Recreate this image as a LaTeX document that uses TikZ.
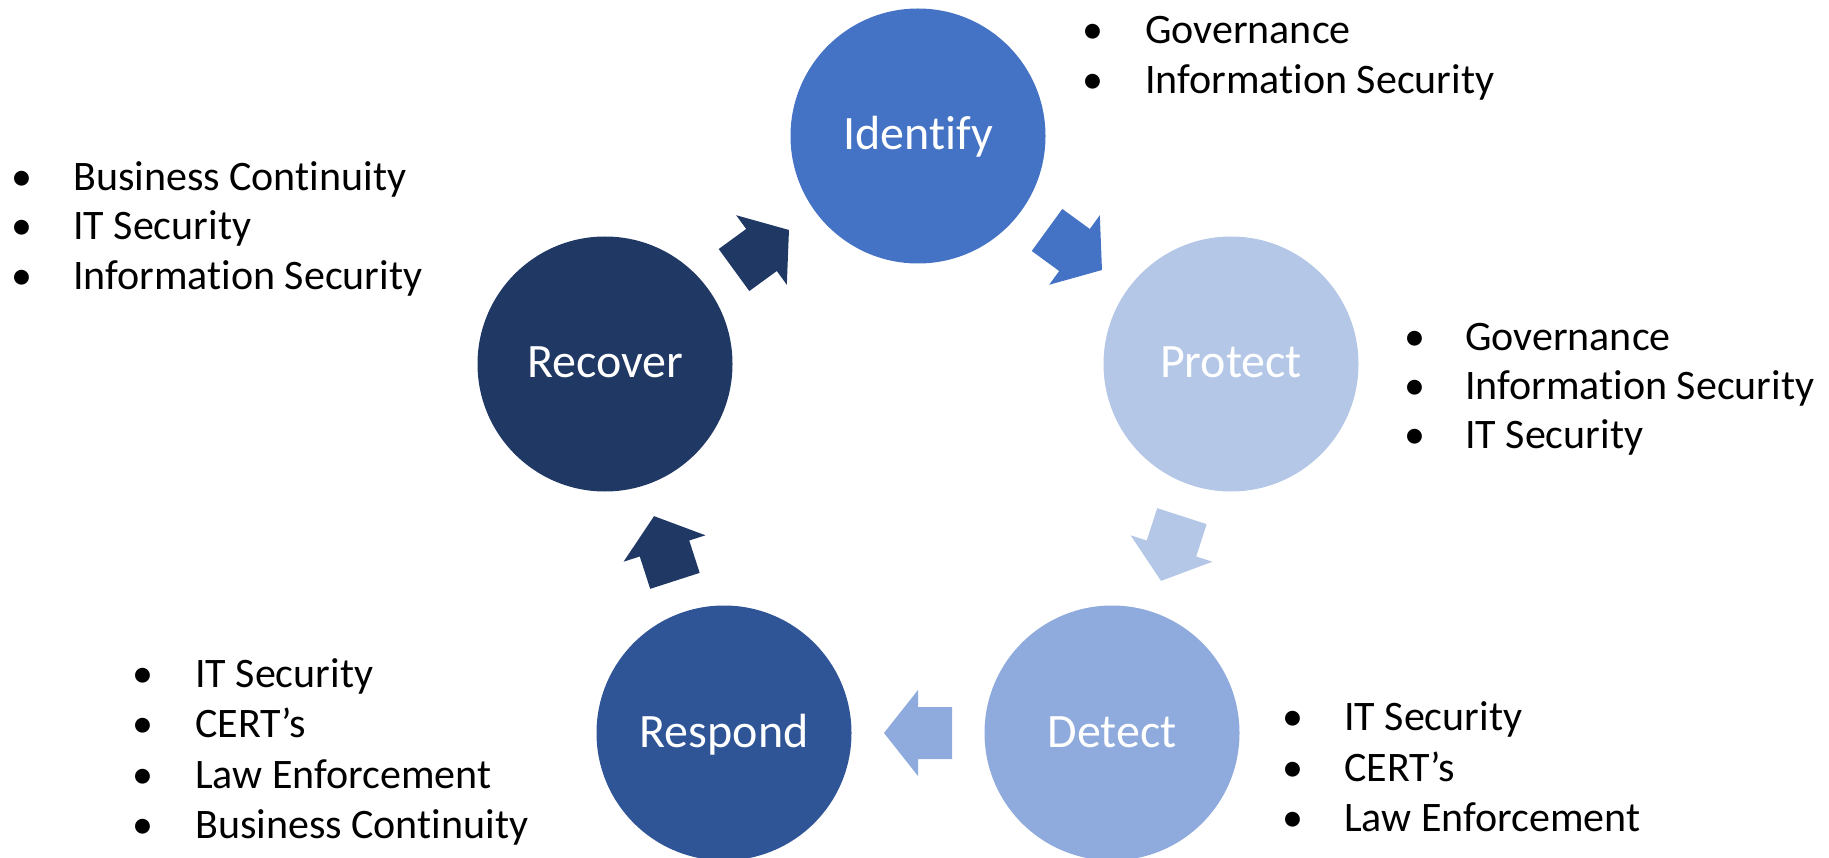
\documentclass[tikz,border=0pt]{standalone}
\usepackage{fontspec}
\setmainfont{Carlito}[Ligatures={NoCommon,NoContextual}]
\usetikzlibrary{calc}

\definecolor{cIdf}{HTML}{4472C4}
\definecolor{cPrt}{HTML}{B4C7E7}
\definecolor{cDet}{HTML}{8FAADC}
\definecolor{cRsp}{HTML}{2F5597}
\definecolor{cRec}{HTML}{203864}

\tikzset{
  stage/.style={circle, minimum size=255pt, inner sep=0pt, text=white,
    font=\fontsize{48}{58}\selectfont, text height=28pt, text depth=0pt},
  bul/.style={anchor=base, inner sep=0pt, font=\fontsize{42}{50}\selectfont},
  itm/.style={anchor=base west, inner sep=0pt, font=\fontsize{42}{50}\selectfont},
  cyclearrow/.pic={
    \fill (-34,-26) -- (0,-26) -- (0,-43) -- (34,0) -- (0,43) -- (0,26)
      -- (-34,26) -- cycle;
  },
  flow/.style={pos=0.5, sloped, allow upside down},
}

% bullet list: #1 name prefix, #2 bullet x, #3 text x, #4 first baseline, #5 step, #6 items
\newcommand\itemlist[6]{%
  \foreach \t [count=\i from 0] in {#6} {
    \node[bul] (#1b\i) at (#2, {#4+#5*\i}) {•};
    \node[itm] (#1t\i) at (#3, {#4+#5*\i}) {\t};
  }%
}

\begin{document}
\begin{tikzpicture}[x=1pt, y=-1pt]
  \useasboundingbox (0,0) rectangle (1829,858);

  % the five stages
  \node[stage, fill=cIdf] (idf) at (918,136)  {Identify};
  \node[stage, fill=cPrt] (prt) at (1231,364) {Protect};
  \node[stage, fill=cDet] (det) at (1112,733) {Detect};
  \node[stage, fill=cRsp] (rsp) at (724,733)  {Respond};
  \node[stage, fill=cRec] (rec) at (605,364)  {Recover};

  % block arrows between consecutive stages
  \path (idf) -- (prt) pic[flow, fill=cIdf] {cyclearrow};
  \path (prt) -- (det) pic[flow, fill=cPrt] {cyclearrow};
  \path (det) -- (rsp) pic[flow, fill=cDet] {cyclearrow};
  \path (rsp) -- (rec) pic[flow, fill=cRec] {cyclearrow};
  \path (rec) -- (idf) pic[flow, fill=cRec] {cyclearrow};

  % responsible parties per stage
  \itemlist{idl}{1092.7}{1145}{43.5}{50}{Governance, Information Security}
  \itemlist{prl}{1415}{1465}{351}{49}{Governance, Information Security, IT Security}
  \itemlist{dtl}{1292.7}{1344}{730.7}{50.5}{IT Security, CERT’s, Law Enforcement}
  \itemlist{rsl}{142.7}{195}{687.7}{50.2}{IT Security, CERT’s, Law Enforcement, Business Continuity}
  \itemlist{rcl}{21.7}{73}{190.7}{49.2}{Business Continuity, IT Security, Information Security}
\end{tikzpicture}
\end{document}
